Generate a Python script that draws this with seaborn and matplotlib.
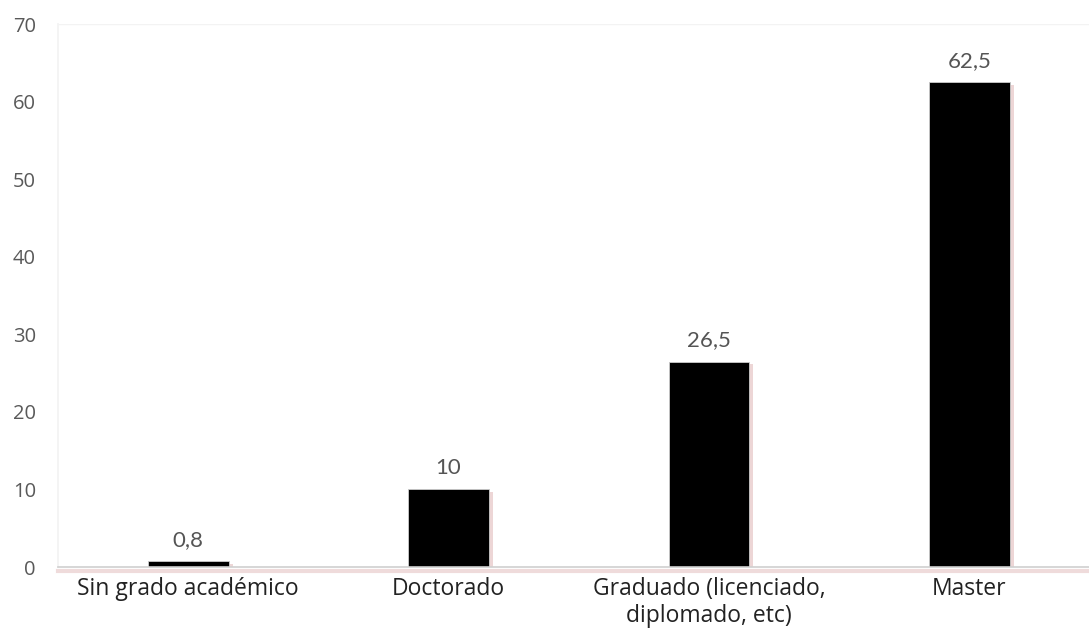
import matplotlib
matplotlib.use("Agg")
import matplotlib.pyplot as plt
import matplotlib.patheffects as pe
import seaborn as sns
import pandas as pd

categories = ["Sin grado académico", "Doctorado", "Graduado (licenciado,\ndiplomado, etc)", "Master"]
values = [0.8, 10, 26.5, 62.5]
yticks = [0, 10, 20, 30, 40, 50, 60, 70]

sns.set_theme(style="white")
plt.rcParams['font.family'] = ['Open Sans', 'DejaVu Sans']

df = pd.DataFrame({"cat": categories, "val": values})

fig = plt.figure(figsize=(10.89, 6.35), dpi=100)
ax = fig.add_axes([0.0533, 0.107, 0.9467, 0.855])

sns.barplot(data=df, x="cat", y="val", color="black", width=0.31, ax=ax,
            saturation=1, edgecolor="#cccccc", linewidth=0.6)

for p in ax.patches:
    p.set_path_effects([pe.SimplePatchShadow(offset=(3, -2), shadow_rgbFace="#d9a6a6", alpha=0.45), pe.Normal()])

for p, v in zip(ax.patches, values):
    ax.annotate(f"{v:g}".replace(".", ","), (p.get_x() + p.get_width() / 2, p.get_height()),
                xytext=(0, 8), textcoords="offset points", ha="center", va="bottom",
                fontsize=16, color="#555555", family=['Lato', 'DejaVu Sans'])

ax.set_ylim(0, 70)
ax.set_xlim(-0.5, 3.46)
ax.set_yticks(yticks)
ax.set_yticklabels([str(t) for t in yticks], fontsize=14.5, color="#595959")
ax.tick_params(axis='x', labelsize=16.5, colors="#222222", length=0, pad=7)
ax.tick_params(axis='y', length=0, pad=16)
ax.set_xlabel("")
ax.set_ylabel("")
ax.axhline(70, color="#f3f3f3", lw=1)

for s in ["top", "right"]:
    ax.spines[s].set_visible(False)
ax.spines["left"].set_color("#f3f3f3")
ax.spines["bottom"].set_color("#cfcfcf")
ax.spines["bottom"].set_linewidth(1.2)
ax.spines["bottom"].set_path_effects([pe.SimpleLineShadow(offset=(0, -2.5), shadow_color="#d9a6a6", alpha=0.4, linewidth=3), pe.Normal()])

fig.savefig("out.png", dpi=100)
